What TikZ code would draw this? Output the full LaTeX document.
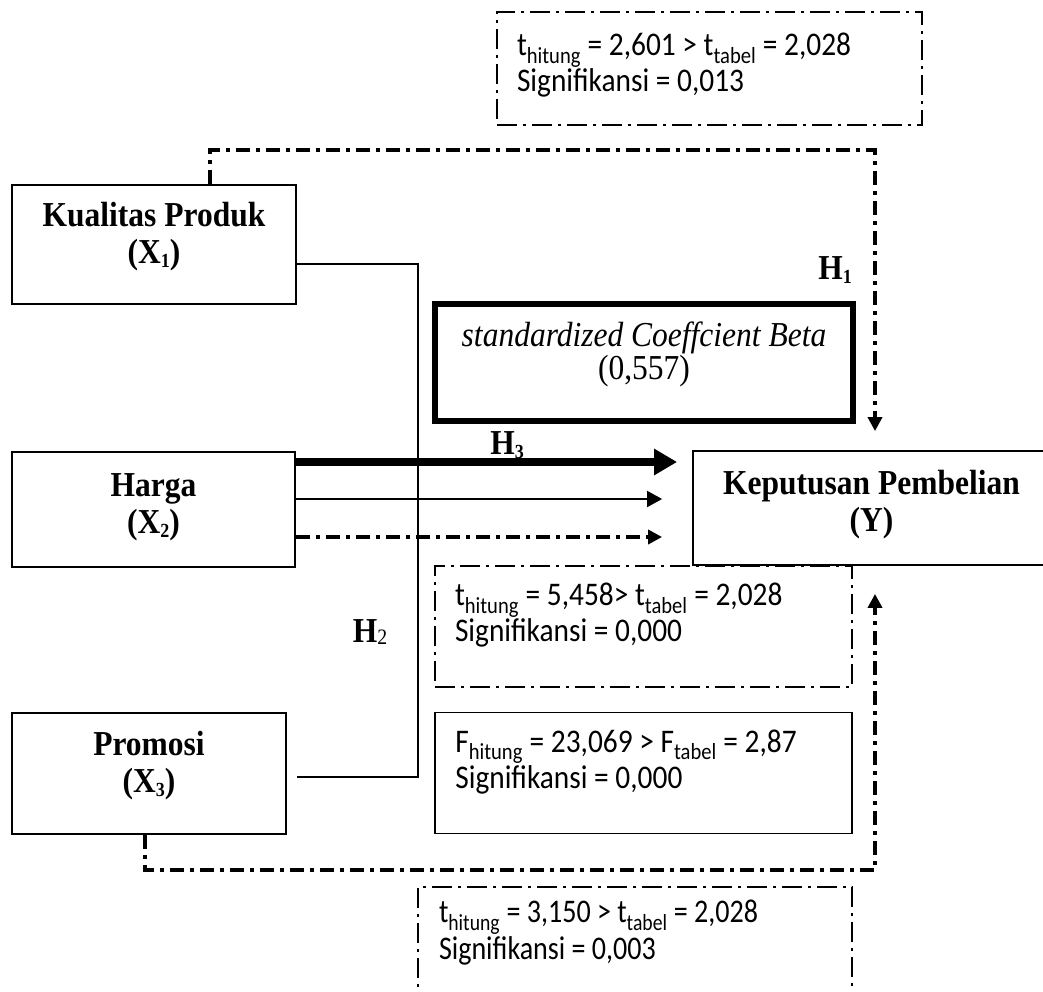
\documentclass[tikz,border=0pt]{standalone}
\usepackage{fontspec}
\setmainfont{Liberation Serif}[FakeStretch=0.9]
\newfontfamily\statfont{Carlito}[FakeStretch=0.89]
\newfontfamily\statnarrow{Carlito}[FakeStretch=0.85]
\usetikzlibrary{positioning,arrows.meta,calc}

\newcommand{\idx}[1]{\raisebox{-4pt}{\fontsize{20}{20}\selectfont #1}}
\newcommand{\sbs}[1]{\textsubscript{#1}}

\begin{document}
\begin{tikzpicture}[
  x=1pt, y=-1pt,
  var/.style={draw, line width=1.8pt, inner sep=0pt, align=center,
              font=\fontsize{35}{37}\selectfont\bfseries},
  statbox/.style={draw, line width=2.4pt, inner sep=0pt,
                  dash pattern=on 20pt off 6pt on 3pt off 6pt},
  plainbox/.style={draw, line width=1.8pt, inner sep=0pt},
  stat/.style={align=left, inner sep=0pt, anchor=north west,
               font=\statfont\fontsize{33}{36}\selectfont},
  hline/.style={line width=4pt, dash pattern=on 14pt off 6pt on 4pt off 6pt},
  lbl/.style={inner sep=0pt, font=\fontsize{35}{37}\selectfont\bfseries},
  bigarrow/.style={line width=8.5pt, -{Triangle[length=23pt,width=25pt]}},
  thinarrow/.style={line width=1.8pt, -{Triangle[length=15pt,width=16pt]}},
  dotarrow/.style={hline, line width=3.5pt, -{Triangle[length=14pt,width=14pt]}}
]
\useasboundingbox (0,0) rectangle (1043,992);

% variables
\node[var, minimum width=284pt, minimum height=119pt, text depth=24pt] (x1) at (154,244.5) {Kualitas Produk\\(X\idx{1})};
\node[var, minimum width=283pt, minimum height=115pt, text depth=12pt] (x2) at (153.5,509.5) {Harga\\(X\idx{2})};
\node[var, minimum width=274pt, minimum height=121pt, text depth=24pt] (x3) at (149,773.5) {Promosi\\(X\idx{3})};
\node[var, minimum width=357pt, minimum height=114pt, text depth=15pt] (y) at (871.5,508) {Keputusan Pembelian\\(Y)};

% beta
\node[var, line width=5.5pt, minimum width=418pt, minimum height=117pt, text depth=23pt,
      font=\fontsize{35}{31}\selectfont] (beta) at (644,362.5) {\textit{standardized Coeffcient Beta}\\(0,557)};

% test boxes
\node[statbox, minimum width=425pt, minimum height=113pt] (t1) at (709.5,68.5) {};
\node[stat] (t1txt) at ([shift={(21pt,-22pt)}]t1.north west) {t\sbs{hitung} = 2,601 > t\sbs{tabel} = 2,028\\Signifikansi = 0,013};

\node[statbox, minimum width=417pt, minimum height=121pt] (t2) at (643.5,626.5) {};
\node[stat] (t2txt) at ([shift={(21pt,-18pt)}]t2.north west) {t\sbs{hitung} = 5,458> t\sbs{tabel} = 2,028\\Signifikansi = 0,000};

\node[plainbox, minimum width=417pt, minimum height=121pt] (fbox) at (643.5,773) {};
\node[stat] (ftxt) at ([shift={(21pt,-18pt)}]fbox.north west) {F\sbs{hitung} = 23,069 > F\sbs{tabel} = 2,87\\Signifikansi = 0,000};

\node[statbox, minimum width=434pt, minimum height=146pt] (t3) at (635,960) {};
\node[stat, font=\statnarrow\fontsize{33}{37}\selectfont] (t3txt) at ([shift={(22pt,-14pt)}]t3.north west) {t\sbs{hitung} = 3,150 > t\sbs{tabel} = 2,028\\Signifikansi = 0,003};

% labels
\node[lbl] (h1) at (835,270) {H\idx{1}};
\node[lbl] (h3) at (507,445) {H\idx{3}};
\node[lbl] (h2) at (370,632) {H\raisebox{-2pt}{\normalfont\fontsize{22}{22}\selectfont 2}};

% partial paths
\coordinate (h1a) at (210,150);
\coordinate (h1b) at (875,150);
\draw[hline, -{Triangle[length=14pt,width=14pt]}] (x1.north -| h1a) -- (h1a) -- (h1b) -- ([yshift=19pt]y.north -| h1b);

\coordinate (h2a) at (145,870);
\coordinate (h2b) at (875,870);
\draw[hline, -{Triangle[length=14pt,width=14pt]}] (x3.south -| h2a) -- (h2a) -- (h2b) -- ([yshift=-28pt]y.south -| h2b);

% harga arrows
\coordinate (a1) at ([yshift=47.5pt]x2.east);
\coordinate (a2) at ([yshift=10.5pt]x2.east);
\coordinate (a3) at ([yshift=-27.5pt]x2.east);
\draw[bigarrow, shorten >=15pt] (a1) -- (a1 -| y.west);
\draw[thinarrow, shorten >=30pt] (a2) -- (a2 -| y.west);
\draw[dotarrow, shorten >=30pt] (a3) -- (a3 -| y.west);

% simultaneous link
\coordinate (jn) at (418,520);
\draw[line width=1.8pt] ([yshift=-19.5pt]x1.east) -| (jn) |- ([xshift=10pt,yshift=-3.5pt]x3.east);

\end{tikzpicture}
\end{document}
